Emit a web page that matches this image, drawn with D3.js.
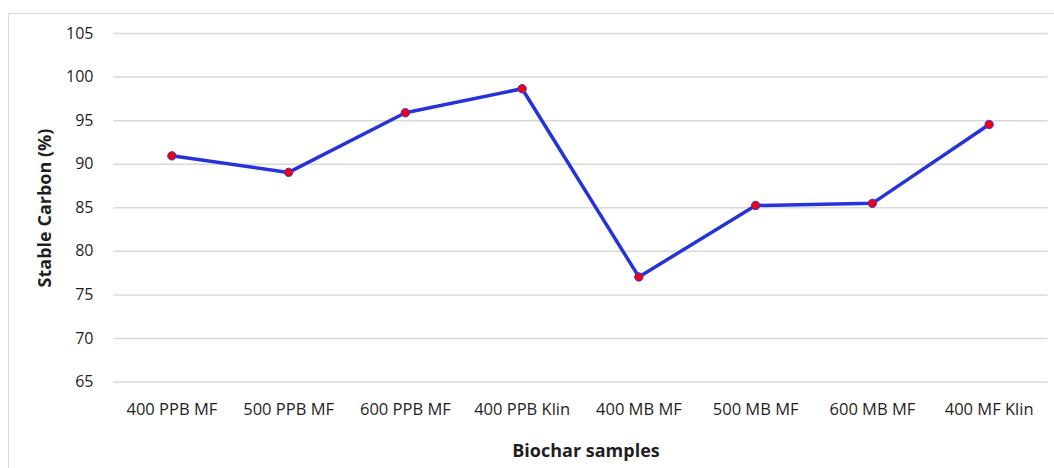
<!DOCTYPE html>
<html>
<head>
<meta charset="utf-8">
<script src="https://cdn.jsdelivr.net/npm/d3@7/dist/d3.min.js"></script>
<style>
  html, body { margin: 0; padding: 0; background: #fff; }
  svg { display: block; }
  text { font-family: "Open Sans", Lato, sans-serif; fill: #1f1f1f; }
</style>
</head>
<body>
<svg id="chart" width="1054" height="468"></svg>
<script>
// Sample labels and their stable carbon content (%)
const categories = ["400 PPB MF", "500 PPB MF", "600 PPB MF", "400 PPB Klin",
                    "400 MB MF", "500 MB MF", "600 MB MF", "400 MF Klin"];
const stableCarbon = [90.9, 89.0, 95.85, 98.6, 77.0, 85.2, 85.45, 94.5];
const yTicks = [65, 70, 75, 80, 85, 90, 95, 100, 105];

const svg = d3.select("#chart");
const plot = { left: 113.5, right: 1047.5, top: 33, bottom: 381.5 };

// Chart frame
svg.append("rect")
  .attr("x", 8.5).attr("y", 13.5)
  .attr("width", 1060).attr("height", 480)
  .attr("fill", "none").attr("stroke", "#d9d9d9").attr("stroke-width", 1);

const x = d3.scaleBand().domain(categories).range([plot.left, plot.right]);
const y = d3.scaleLinear().domain([65, 105]).range([plot.bottom, plot.top]);

// Horizontal gridlines with value labels
const yAxis = d3.axisLeft(y).tickValues(yTicks)
  .tickSize(-(plot.right - plot.left)).tickPadding(20);
const gy = svg.append("g").attr("transform", `translate(${plot.left},0)`).call(yAxis);
gy.select(".domain").remove();
gy.selectAll(".tick line").attr("stroke", "#d9d9d9").attr("stroke-width", 1.5);
gy.selectAll(".tick text").attr("font-size", 16).attr("font-family", "'Open Sans', Lato, sans-serif")
  .attr("fill", "#1f1f1f");

// Category labels
const xAxis = d3.axisBottom(x).tickSize(0).tickPadding(22);
const gx = svg.append("g").attr("transform", `translate(0,${plot.bottom})`).call(xAxis);
gx.select(".domain").remove();
gx.selectAll(".tick text").attr("font-size", 16.5).attr("font-family", "'Open Sans', Lato, sans-serif")
  .attr("fill", "#1f1f1f");

// Axis titles
svg.append("text")
  .attr("transform", `translate(51,208) rotate(-90)`)
  .attr("text-anchor", "middle")
  .attr("font-size", 18).attr("font-weight", "bold")
  .text("Stable Carbon (%)");
svg.append("text")
  .attr("x", 586).attr("y", 457)
  .attr("text-anchor", "middle")
  .attr("font-size", 18).attr("font-weight", "bold")
  .text("Biochar samples");

// Series line
const cx = (d, i) => x(categories[i]) + x.bandwidth() / 2;
const line = d3.line().x((d, i) => cx(d, i)).y(d => y(d));
svg.append("path")
  .datum(stableCarbon)
  .attr("d", line)
  .attr("fill", "none")
  .attr("stroke", "#2633d9")
  .attr("stroke-width", 3.5)
  .attr("stroke-linejoin", "round");

// Markers
svg.selectAll("circle.pt")
  .data(stableCarbon)
  .enter().append("circle")
  .attr("class", "pt")
  .attr("cx", (d, i) => cx(d, i))
  .attr("cy", d => y(d))
  .attr("r", 4.2)
  .attr("fill", "#ee0010")
  .attr("stroke", "#3a3ad6")
  .attr("stroke-width", 1);
</script>
</body>
</html>
